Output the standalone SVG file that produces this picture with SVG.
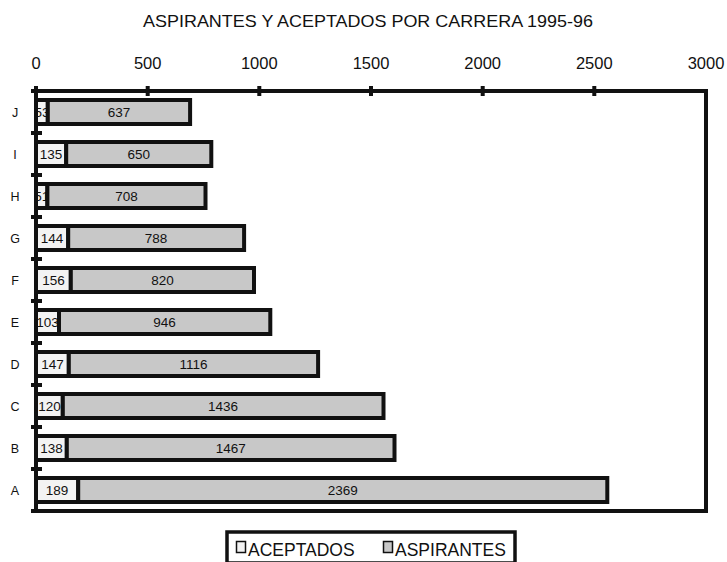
<svg xmlns="http://www.w3.org/2000/svg" width="727" height="562" viewBox="0 0 727 562">
<style>
text{font-family:"Liberation Sans",Arial,sans-serif;fill:#111}
.title{font-size:16.5px}
.ax{font-size:16.5px;text-anchor:middle}
.cat{font-size:12.5px;text-anchor:middle}
.val{font-size:13.5px;text-anchor:middle}
.acc{fill:#f3f3f3;stroke:#111;stroke-width:4}
.asp{fill:#c8c8c8;stroke:#111;stroke-width:4}
.line{stroke:#111;stroke-width:4;fill:none}
.tick{stroke:#111;stroke-width:4}
.leg{font-size:17.5px}
</style>
<rect width="727" height="562" fill="#fff"/>
<text class="title" x="143" y="27" textLength="450" lengthAdjust="spacingAndGlyphs">ASPIRANTES Y ACEPTADOS POR CARRERA 1995-96</text>
<g id="axis-labels">
<text class="ax" x="36" y="69">0</text>
<text class="ax" x="147.7" y="69">500</text>
<text class="ax" x="259.3" y="69">1000</text>
<text class="ax" x="371" y="69">1500</text>
<text class="ax" x="482.7" y="69">2000</text>
<text class="ax" x="594.3" y="69">2500</text>
<text class="ax" x="706" y="69">3000</text>
</g>
<g id="categories">
<text class="cat" x="15" y="117">J</text>
<text class="cat" x="15" y="159">I</text>
<text class="cat" x="15" y="201">H</text>
<text class="cat" x="15" y="243">G</text>
<text class="cat" x="15" y="285">F</text>
<text class="cat" x="15" y="327">E</text>
<text class="cat" x="15" y="369">D</text>
<text class="cat" x="15" y="411">C</text>
<text class="cat" x="15" y="453">B</text>
<text class="cat" x="15" y="495">A</text>
</g>
<g id="bar-J">
<rect class="acc" x="36" y="100" width="11.8" height="24"/><text class="val" x="41.9" y="117">53</text>
<rect class="asp" x="47.8" y="100" width="142.3" height="24"/><text class="val" x="119" y="117">637</text>
</g>
<g id="bar-I">
<rect class="acc" x="36" y="142" width="30.2" height="24"/><text class="val" x="51.1" y="159">135</text>
<rect class="asp" x="66.2" y="142" width="145.1" height="24"/><text class="val" x="138.7" y="159">650</text>
</g>
<g id="bar-H">
<rect class="acc" x="36" y="184" width="11.4" height="24"/><text class="val" x="41.7" y="201">51</text>
<rect class="asp" x="47.4" y="184" width="158.1" height="24"/><text class="val" x="126.4" y="201">708</text>
</g>
<g id="bar-G">
<rect class="acc" x="36" y="226" width="32.2" height="24"/><text class="val" x="52.1" y="243">144</text>
<rect class="asp" x="68.2" y="226" width="175.9" height="24"/><text class="val" x="156.1" y="243">788</text>
</g>
<g id="bar-F">
<rect class="acc" x="36" y="268" width="34.8" height="24"/><text class="val" x="53.4" y="285">156</text>
<rect class="asp" x="70.8" y="268" width="183.2" height="24"/><text class="val" x="162.4" y="285">820</text>
</g>
<g id="bar-E">
<rect class="acc" x="36" y="310" width="23" height="24"/><text class="val" x="47.5" y="327">103</text>
<rect class="asp" x="59" y="310" width="211.3" height="24"/><text class="val" x="164.6" y="327">946</text>
</g>
<g id="bar-D">
<rect class="acc" x="36" y="352" width="32.8" height="24"/><text class="val" x="52.4" y="369">147</text>
<rect class="asp" x="68.8" y="352" width="249.3" height="24"/><text class="val" x="193.5" y="369">1116</text>
</g>
<g id="bar-C">
<rect class="acc" x="36" y="394" width="26.8" height="24"/><text class="val" x="49.4" y="411">120</text>
<rect class="asp" x="62.8" y="394" width="320.7" height="24"/><text class="val" x="223.1" y="411">1436</text>
</g>
<g id="bar-B">
<rect class="acc" x="36" y="436" width="30.8" height="24"/><text class="val" x="51.4" y="453">138</text>
<rect class="asp" x="66.8" y="436" width="327.7" height="24"/><text class="val" x="230.7" y="453">1467</text>
</g>
<g id="bar-A">
<rect class="acc" x="36" y="478" width="42.2" height="24"/><text class="val" x="57.1" y="495">189</text>
<rect class="asp" x="78.2" y="478" width="529.1" height="24"/><text class="val" x="342.8" y="495">2369</text>
</g>
<g id="axes">
<path class="line" d="M31 91H706V511H31"/>
<path class="line" d="M36 89V513"/>
<path class="tick" d="M36 86V96M147.7 86V96M259.3 86V96M371 86V96M482.7 86V96M594.3 86V96"/>
<path class="tick" d="M31 133H42M31 175H42M31 217H42M31 259H42M31 301H42M31 343H42M31 385H42M31 427H42M31 469H42"/>
</g>
<g id="legend">
<rect x="227" y="532" width="288" height="31" fill="#fff" stroke="#111" stroke-width="3.5"/>
<rect x="236.5" y="541.5" width="9" height="11" fill="#f3f3f3" stroke="#111" stroke-width="1.5"/>
<text class="leg" x="248" y="556">ACEPTADOS</text>
<rect x="383.5" y="541.5" width="9" height="11" fill="#c8c8c8" stroke="#111" stroke-width="1.5"/>
<text class="leg" x="395" y="556">ASPIRANTES</text>
</g>
</svg>
